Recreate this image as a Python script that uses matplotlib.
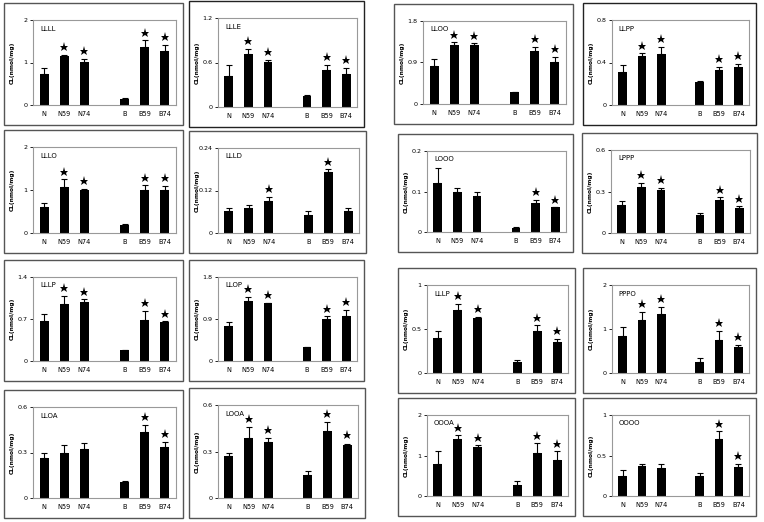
import matplotlib
matplotlib.use('Agg')
import matplotlib.pyplot as plt
from matplotlib.patches import Rectangle
import numpy as np

categories = ["N", "N59", "N74", "B", "B59", "B74"]
ylabel = "CL(nmol/mg)"

# ---- data (value, error, significance) ----
LLLL_vals = [0.73, 1.15, 1.01, 0.15, 1.36, 1.27]
LLLL_errs = [0.14, 0.03, 0.08, 0.02, 0.16, 0.14]
LLLL_sig = [0, 1, 1, 0, 1, 1]
LLLL_ticks = ["0", "1", "2"]

LLLE_vals = [0.42, 0.71, 0.61, 0.15, 0.50, 0.45]
LLLE_errs = [0.14, 0.07, 0.03, 0.015, 0.07, 0.08]
LLLE_sig = [0, 1, 1, 0, 1, 1]
LLLE_ticks = ["0", "0.6", "1.2"]

LLOO_vals = [0.83, 1.28, 1.28, 0.25, 1.14, 0.92]
LLOO_errs = [0.15, 0.06, 0.04, 0.02, 0.10, 0.10]
LLOO_sig = [0, 1, 1, 0, 1, 1]
LLOO_ticks = ["0", "0.9", "1.8"]

LLPP_vals = [0.31, 0.46, 0.48, 0.22, 0.33, 0.36]
LLPP_errs = [0.065, 0.025, 0.07, 0.005, 0.03, 0.03]
LLPP_sig = [0, 1, 1, 0, 1, 1]
LLPP_ticks = ["0", "0.4", "0.8"]

LLLO_vals = [0.60, 1.07, 1.00, 0.19, 0.99, 1.00]
LLLO_errs = [0.10, 0.18, 0.03, 0.01, 0.12, 0.10]
LLLO_sig = [0, 1, 1, 0, 1, 1]
LLLO_ticks = ["0", "1", "2"]

LLLD_vals = [0.061, 0.070, 0.090, 0.050, 0.171, 0.061]
LLLD_errs = [0.009, 0.010, 0.013, 0.011, 0.009, 0.009]
LLLD_sig = [0, 0, 1, 0, 1, 0]
LLLD_ticks = ["0", "0.12", "0.24"]

LOOO_vals = [0.12, 0.10, 0.09, 0.01, 0.072, 0.061]
LOOO_errs = [0.038, 0.009, 0.010, 0.002, 0.008, 0.001]
LOOO_sig = [0, 0, 0, 0, 1, 1]
LOOO_ticks = ["0", "0.1", "0.2"]

LPPP_vals = [0.20, 0.33, 0.31, 0.13, 0.24, 0.18]
LPPP_errs = [0.032, 0.034, 0.016, 0.012, 0.018, 0.015]
LPPP_sig = [0, 1, 1, 0, 1, 1]
LPPP_ticks = ["0", "0.3", "0.6"]

LLLP_vals = [0.66, 0.95, 0.98, 0.185, 0.69, 0.65]
LLLP_errs = [0.13, 0.14, 0.05, 0.0, 0.15, 0.01]
LLLP_sig = [0, 1, 1, 0, 1, 1]
LLLP_ticks = ["0", "0.7", "1.4"]

LLOP_vals = [0.755, 1.29, 1.24, 0.29, 0.89, 0.96]
LLOP_errs = [0.075, 0.09, 0.01, 0.01, 0.07, 0.14]
LLOP_sig = [0, 1, 1, 0, 1, 1]
LLOP_ticks = ["0", "0.9", "1.8"]

LLOA_vals = [0.262, 0.30, 0.32, 0.103, 0.434, 0.338]
LLOA_errs = [0.038, 0.05, 0.04, 0.007, 0.046, 0.029]
LLOA_sig = [0, 0, 0, 0, 1, 1]
LLOA_ticks = ["0", "0.3", "0.6"]

LOOA_vals = [0.27, 0.39, 0.36, 0.146, 0.434, 0.342]
LOOA_errs = [0.018, 0.067, 0.026, 0.028, 0.056, 0.008]
LOOA_sig = [0, 1, 1, 0, 1, 1]
LOOA_ticks = ["0", "0.3", "0.6"]

LLLP2_vals = [0.40, 0.72, 0.62, 0.12, 0.48, 0.35]
LLLP2_errs = [0.08, 0.06, 0.02, 0.03, 0.06, 0.04]
LLLP2_sig = [0, 1, 1, 0, 1, 1]
LLLP2_ticks = ["0", "0.5", "1"]

PPPO_vals = [0.85, 1.20, 1.35, 0.25, 0.75, 0.60]
PPPO_errs = [0.20, 0.18, 0.15, 0.10, 0.20, 0.04]
PPPO_sig = [0, 1, 1, 0, 1, 1]
PPPO_ticks = ["0", "1", "2"]

OOOA_vals = [0.80, 1.40, 1.20, 0.28, 1.05, 0.90]
OOOA_errs = [0.30, 0.10, 0.05, 0.08, 0.25, 0.20]
OOOA_sig = [0, 1, 1, 0, 1, 1]
OOOA_ticks = ["0", "1", "2"]

OOOO_vals = [0.25, 0.37, 0.34, 0.25, 0.70, 0.36]
OOOO_errs = [0.07, 0.03, 0.06, 0.03, 0.10, 0.04]
OOOO_sig = [0, 0, 0, 0, 1, 1]
OOOO_ticks = ["0", "0.5", "1"]

panels = [
    ("LLLL", LLLL_vals, LLLL_errs, LLLL_sig, LLLL_ticks),
    ("LLLE", LLLE_vals, LLLE_errs, LLLE_sig, LLLE_ticks),
    ("LLOO", LLOO_vals, LLOO_errs, LLOO_sig, LLOO_ticks),
    ("LLPP", LLPP_vals, LLPP_errs, LLPP_sig, LLPP_ticks),
    ("LLLO", LLLO_vals, LLLO_errs, LLLO_sig, LLLO_ticks),
    ("LLLD", LLLD_vals, LLLD_errs, LLLD_sig, LLLD_ticks),
    ("LOOO", LOOO_vals, LOOO_errs, LOOO_sig, LOOO_ticks),
    ("LPPP", LPPP_vals, LPPP_errs, LPPP_sig, LPPP_ticks),
    ("LLLP", LLLP_vals, LLLP_errs, LLLP_sig, LLLP_ticks),
    ("LLOP", LLOP_vals, LLOP_errs, LLOP_sig, LLOP_ticks),
    ("LLLP", LLLP2_vals, LLLP2_errs, LLLP2_sig, LLLP2_ticks),
    ("PPPO", PPPO_vals, PPPO_errs, PPPO_sig, PPPO_ticks),
    ("LLOA", LLOA_vals, LLOA_errs, LLOA_sig, LLOA_ticks),
    ("LOOA", LOOA_vals, LOOA_errs, LOOA_sig, LOOA_ticks),
    ("OOOA", OOOA_vals, OOOA_errs, OOOA_sig, OOOA_ticks),
    ("OOOO", OOOO_vals, OOOO_errs, OOOO_sig, OOOO_ticks),
]

# ---- layout (pixel frames: left, top, right, bottom) ----
W, H = 764, 522
frames = [
    (4, 3, 183, 125), (189, 1, 364, 127), (394, 4, 573, 124), (583, 3, 756, 125),
    (4, 130, 183, 253), (189, 131, 366, 253), (398, 134, 573, 252), (582, 133, 757, 253),
    (4, 260, 183, 381), (189, 260, 364, 381), (398, 268, 575, 393), (583, 268, 756, 393),
    (4, 390, 183, 518), (189, 388, 365, 518), (398, 398, 575, 516), (583, 398, 756, 516),
]
frame_colors = ['#555555'] * 16
frame_colors[3] = '#222222'
frame_colors[1] = '#222222'

fig = plt.figure(figsize=(W / 100, H / 100), dpi=100)
fig.patch.set_facecolor('white')

xpos = np.array([i + (1 if i >= 3 else 0) for i in range(len(categories))])

for k, (title, vals, errs, sig, ticks) in enumerate(panels):
    l, t, r, b = frames[k]
    fig.patches.append(Rectangle((l / W, 1 - b / H), (r - l) / W, (b - t) / H,
                                 transform=fig.transFigure, fill=False,
                                 edgecolor=frame_colors[k], linewidth=1.0))
    al, ar = l + 29, r - 7
    at, ab = t + 17, b - 20
    ax = fig.add_axes([al / W, 1 - ab / H, (ar - al) / W, (ab - at) / H])
    ymax = float(ticks[-1])
    vals = np.array(vals)
    errs = np.array(errs)
    ax.bar(xpos, vals, width=0.45, color='black', zorder=2)
    ax.errorbar(xpos, vals, yerr=[np.zeros_like(errs), errs], fmt='none',
                ecolor='black', elinewidth=0.8, capsize=2.2, capthick=0.8, zorder=3)
    for x, v, e, s in zip(xpos, vals, errs, sig):
        if s:
            ax.plot([x], [v + e + 0.09 * ymax], marker='*', color='black',
                    markersize=6.5, markeredgewidth=0, zorder=4)
    ax.set_xlim(-0.55, 6.55)
    ax.set_ylim(0, ymax)
    ax.set_yticks([float(v) for v in ticks])
    ax.set_yticklabels(ticks, fontsize=4.6)
    ax.set_xticks(xpos)
    ax.set_xticklabels(categories, fontsize=4.8)
    ax.tick_params(axis='x', length=0, pad=4)
    ax.tick_params(axis='y', length=2, width=0.6, pad=2)
    for sp in ax.spines.values():
        sp.set_color('#999999')
        sp.set_linewidth(0.8)
    ax.text(0.05, 0.9, title, transform=ax.transAxes, fontsize=5, va='center', ha='left')
    fig.text((l + 8) / W, 1 - ((at + ab) / 2) / H, ylabel, rotation=90,
             fontsize=4.2, fontweight='bold', ha='center', va='center')

fig.savefig('out.png', dpi=100, facecolor='white')
